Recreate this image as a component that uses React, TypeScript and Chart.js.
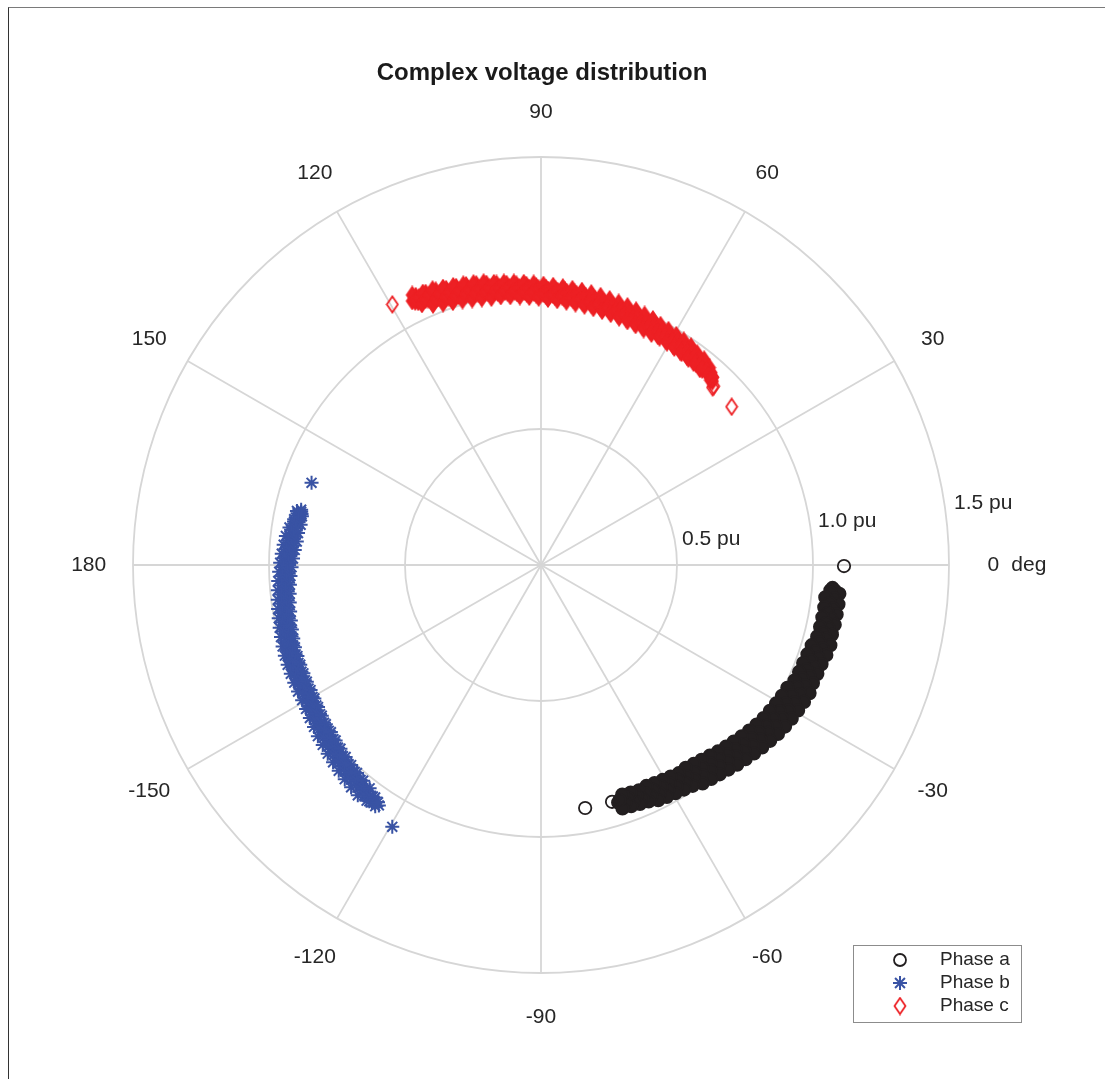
import React, { useEffect, useRef } from "react";
import { Chart, registerables } from "chart.js";

Chart.register(...registerables);

const TITLE = "Complex voltage distribution";
const angleTicks = [0, 30, 60, 90, 120, 150, 180, -150, -120, -90, -60, -30];
const angleTickLabels = ["0", "30", "60", "90", "120", "150", "180", "-150", "-120", "-90", "-60", "-30"];
const radialTicks = [0.5, 1.0, 1.5];
const radialTickLabels = ["0.5 pu", "1.0 pu", "1.5 pu"];
const seriesNames = ["Phase a", "Phase b", "Phase c"];
const seriesColors = ["#231f20", "#3953a4", "#ed2024"];

// [angle in degrees, magnitude in pu] — isolated samples
const phaseAOutliers: [number, number][] = [[-0.2, 1.114], [-73.3, 0.909], [-79.7, 0.908]];
const phaseBOutliers: [number, number][] = [[160.3, 0.896], [-119.6, 1.107]];
const phaseCOutliers: [number, number][] = [[119.7, 1.103], [46, 0.914], [46, 0.908], [39.7, 0.911]];

// [angle in degrees, magnitude in pu] — dense clusters
const phaseA: [number, number][] = [
  [-4.5, 1.075], [-5, 1.085], [-5, 1.068], [-6, 1.078], [-7, 1.09], [-7, 1.066], [-8, 1.08],
  [-9, 1.092], [-9, 1.062], [-10, 1.076], [-11, 1.094], [-11, 1.06], [-12, 1.078], [-13, 1.096], [-13, 1.056],
  [-14, 1.074], [-15, 1.094], [-15, 1.052], [-16, 1.072], [-17, 1.09], [-17, 1.048], [-18, 1.066], [-19, 1.088],
  [-19, 1.04], [-20, 1.062], [-21, 1.085], [-21, 1.036], [-22, 1.06], [-23, 1.083], [-23, 1.034], [-24, 1.058],
  [-25, 1.082], [-25, 1.03], [-26, 1.055], [-27, 1.078], [-27, 1.026], [-28, 1.05], [-29, 1.076], [-29, 1.02],
  [-30, 1.046], [-31, 1.07], [-31, 1.016], [-32, 1.04], [-33, 1.066], [-33, 1.01], [-34, 1.034], [-35, 1.06],
  [-35, 1.004], [-36, 1.028], [-37, 1.052], [-37, 0.998], [-38, 1.02], [-39, 1.044], [-39, 0.99], [-40, 1.012],
  [-41, 1.036], [-41, 0.982], [-42, 1.002], [-43, 1.026], [-43, 0.974], [-44, 0.994], [-45, 1.016], [-45, 0.966],
  [-46, 0.986], [-47, 1.006], [-47, 0.96], [-48, 0.978], [-49, 0.998], [-49, 0.952], [-50, 0.97], [-51, 0.99],
  [-51, 0.946], [-52, 0.962], [-53, 0.982], [-53, 0.94], [-54, 0.956], [-55, 0.974], [-55, 0.936], [-56, 0.95],
  [-57, 0.966], [-57, 0.932], [-58, 0.944], [-59, 0.96], [-59, 0.928], [-60, 0.94], [-61, 0.954], [-61, 0.924],
  [-62, 0.936], [-63, 0.95], [-63, 0.92], [-64, 0.932], [-65, 0.944], [-65, 0.916], [-66, 0.928], [-67, 0.94],
  [-67, 0.914], [-68, 0.924], [-69, 0.936], [-69, 0.912], [-70, 0.92], [-71, 0.93], [-71, 0.91], [-72, 0.918],
  [-5.5, 1.102], [-5.5, 1.07], [-6.5, 1.085], [-6.5, 1.052], [-7.5, 1.103], [-7.5, 1.071], [-8.5, 1.086], [-8.5, 1.053],
  [-9.5, 1.102], [-9.5, 1.07], [-10.5, 1.085], [-10.5, 1.052], [-11.5, 1.102], [-11.5, 1.07], [-12.5, 1.084], [-12.5, 1.051],
  [-13.5, 1.1], [-13.5, 1.068], [-14.5, 1.082], [-14.5, 1.049], [-15.5, 1.104], [-15.5, 1.062], [-16.5, 1.08], [-16.5, 1.038],
  [-17.5, 1.1], [-17.5, 1.058], [-18.5, 1.075], [-18.5, 1.033], [-19.5, 1.094], [-19.5, 1.052], [-20.5, 1.071], [-20.5, 1.029],
  [-21.5, 1.092], [-21.5, 1.05], [-22.5, 1.069], [-22.5, 1.027], [-23.5, 1.09], [-23.5, 1.048], [-24.5, 1.066], [-24.5, 1.024],
  [-25.5, 1.094], [-25.5, 1.042], [-26.5, 1.064], [-26.5, 1.012], [-27.5, 1.09], [-27.5, 1.038], [-28.5, 1.06], [-28.5, 1.008],
  [-29.5, 1.086], [-29.5, 1.034], [-30.5, 1.055], [-30.5, 1.003], [-31.5, 1.081], [-31.5, 1.029], [-32.5, 1.05], [-32.5, 0.998],
  [-33.5, 1.076], [-33.5, 1.024], [-34.5, 1.045], [-34.5, 0.993], [-35.5, 1.07], [-35.5, 1.018], [-36.5, 1.038], [-36.5, 0.986],
  [-37.5, 1.062], [-37.5, 1.01], [-38.5, 1.03], [-38.5, 0.978], [-39.5, 1.054], [-39.5, 1.002], [-40.5, 1.022], [-40.5, 0.97],
  [-41.5, 1.046], [-41.5, 0.994], [-42.5, 1.013], [-42.5, 0.961], [-43.5, 1.037], [-43.5, 0.985], [-44.5, 1.005], [-44.5, 0.953],
  [-45.5, 1.029], [-45.5, 0.977], [-46.5, 0.997], [-46.5, 0.945], [-47.5, 1.02], [-47.5, 0.968], [-48.5, 0.988], [-48.5, 0.936],
  [-49.5, 1.012], [-49.5, 0.96], [-50.5, 0.98], [-50.5, 0.928], [-51.5, 1.005], [-51.5, 0.953], [-52.5, 0.974], [-52.5, 0.922],
  [-53.5, 0.999], [-53.5, 0.947], [-54.5, 0.968], [-54.5, 0.916], [-55.5, 0.985], [-55.5, 0.943], [-56.5, 0.96], [-56.5, 0.918],
  [-57.5, 0.979], [-57.5, 0.937], [-58.5, 0.954], [-58.5, 0.912], [-59.5, 0.974], [-59.5, 0.932], [-60.5, 0.95], [-60.5, 0.908],
  [-61.5, 0.97], [-61.5, 0.928], [-62.5, 0.946], [-62.5, 0.904], [-63.5, 0.966], [-63.5, 0.924], [-64.5, 0.942], [-64.5, 0.9],
  [-65.5, 0.955], [-65.5, 0.922], [-66.5, 0.936], [-66.5, 0.903], [-67.5, 0.951], [-67.5, 0.918], [-68.5, 0.932], [-68.5, 0.899],
  [-69.5, 0.947], [-69.5, 0.914], [-70.5, 0.928], [-70.5, 0.895], [-71.5, 0.944], [-71.5, 0.911],
];

const phaseB: [number, number][] = [
  [167, 0.905], [168, 0.915], [168, 0.9], [169, 0.91], [170, 0.922], [170, 0.905], [171, 0.918],
  [172, 0.928], [172, 0.91], [173, 0.92], [174, 0.932], [174, 0.914], [175, 0.925], [176, 0.936], [176, 0.918],
  [177, 0.928], [178, 0.94], [178, 0.922], [179, 0.932], [180, 0.944], [180, 0.926], [-179, 0.936], [-178, 0.948],
  [-178, 0.928], [-177, 0.94], [-176, 0.952], [-176, 0.932], [-175, 0.944], [-174, 0.956], [-174, 0.936], [-173, 0.948],
  [-172, 0.96], [-172, 0.94], [-171, 0.952], [-170, 0.964], [-170, 0.944], [-169, 0.956], [-168, 0.968], [-168, 0.948],
  [-167, 0.96], [-166, 0.972], [-166, 0.95], [-165, 0.962], [-164, 0.974], [-164, 0.954], [-163, 0.966], [-162, 0.978],
  [-162, 0.958], [-161, 0.97], [-160, 0.982], [-160, 0.96], [-159, 0.972], [-158, 0.984], [-158, 0.962], [-157, 0.974],
  [-156, 0.986], [-156, 0.964], [-155, 0.976], [-154, 0.988], [-154, 0.966], [-153, 0.978], [-152, 0.99], [-152, 0.968],
  [-151, 0.98], [-150, 0.994], [-150, 0.97], [-149, 0.984], [-148, 0.998], [-148, 0.974], [-147, 0.99], [-146, 1.004],
  [-146, 0.98], [-145, 0.994], [-144, 1.01], [-144, 0.986], [-143, 1.0], [-142, 1.016], [-142, 0.99], [-141, 1.006],
  [-140, 1.022], [-140, 0.996], [-139, 1.012], [-138, 1.03], [-138, 1.004], [-137, 1.018], [-136, 1.036], [-136, 1.012],
  [-135, 1.024], [-134, 1.044], [-134, 1.018], [-133, 1.032], [-132, 1.05], [-132, 1.024], [-131, 1.04], [-130, 1.056],
  [-130, 1.032], [-129, 1.046], [-128, 1.066], [-128, 1.044], [-127, 1.056], [-126, 1.074], [-126, 1.052], [-125, 1.064],
  [-124, 1.066],
  [167.5, 0.919], [167.5, 0.903], [168.5, 0.913], [168.5, 0.897], [169.5, 0.923], [169.5, 0.907], [170.5, 0.92], [170.5, 0.896],
  [171.5, 0.935], [171.5, 0.911], [172.5, 0.925], [172.5, 0.901], [173.5, 0.944], [173.5, 0.914], [174.5, 0.932], [174.5, 0.902],
  [175.5, 0.949], [175.5, 0.919], [176.5, 0.937], [176.5, 0.907], [177.5, 0.954], [177.5, 0.924], [178.5, 0.942], [178.5, 0.912],
  [179.5, 0.959], [179.5, 0.929], [-179.5, 0.947], [-179.5, 0.917], [-178.5, 0.963], [-178.5, 0.933], [-177.5, 0.952], [-177.5, 0.922],
  [-176.5, 0.968], [-176.5, 0.938], [-175.5, 0.956], [-175.5, 0.926], [-174.5, 0.972], [-174.5, 0.942], [-173.5, 0.96], [-173.5, 0.93],
  [-172.5, 0.976], [-172.5, 0.946], [-171.5, 0.964], [-171.5, 0.934], [-170.5, 0.98], [-170.5, 0.95], [-169.5, 0.968], [-169.5, 0.938],
  [-168.5, 0.984], [-168.5, 0.954], [-167.5, 0.972], [-167.5, 0.942], [-166.5, 0.988], [-166.5, 0.958], [-165.5, 0.976], [-165.5, 0.946],
  [-164.5, 0.992], [-164.5, 0.962], [-163.5, 0.98], [-163.5, 0.95], [-162.5, 0.996], [-162.5, 0.966], [-161.5, 0.984], [-161.5, 0.954],
  [-160.5, 0.999], [-160.5, 0.969], [-159.5, 0.986], [-159.5, 0.956], [-158.5, 1.001], [-158.5, 0.971], [-157.5, 0.988], [-157.5, 0.958],
  [-156.5, 1.003], [-156.5, 0.973], [-155.5, 0.99], [-155.5, 0.96], [-154.5, 1.005], [-154.5, 0.975], [-153.5, 0.992], [-153.5, 0.962],
  [-152.5, 1.007], [-152.5, 0.977], [-151.5, 0.994], [-151.5, 0.964], [-150.5, 1.009], [-150.5, 0.979], [-149.5, 0.997], [-149.5, 0.967],
  [-148.5, 1.013], [-148.5, 0.983], [-147.5, 1.002], [-147.5, 0.972], [-146.5, 1.019], [-146.5, 0.989], [-145.5, 1.008], [-145.5, 0.978],
  [-144.5, 1.025], [-144.5, 0.995], [-143.5, 1.014], [-143.5, 0.984], [-142.5, 1.034], [-142.5, 1.001], [-141.5, 1.02], [-141.5, 0.987],
  [-140.5, 1.04], [-140.5, 1.007], [-139.5, 1.026], [-139.5, 0.993], [-138.5, 1.047], [-138.5, 1.014], [-137.5, 1.033], [-137.5, 1.0],
  [-136.5, 1.054], [-136.5, 1.021], [-135.5, 1.04], [-135.5, 1.007], [-134.5, 1.061], [-134.5, 1.028], [-133.5, 1.047], [-133.5, 1.014],
  [-132.5, 1.068], [-132.5, 1.035], [-131.5, 1.054], [-131.5, 1.021], [-130.5, 1.075], [-130.5, 1.042], [-129.5, 1.061], [-129.5, 1.028],
  [-128.5, 1.082], [-128.5, 1.049], [-127.5, 1.068], [-127.5, 1.035], [-126.5, 1.078], [-126.5, 1.058], [-125.5, 1.07], [-125.5, 1.05],
  [-124.5, 1.076], [-124.5, 1.058],
];

const phaseC: [number, number][] = [
  [116, 1.08], [115, 1.09], [115, 1.068], [114, 1.078], [113, 1.086], [113, 1.062], [112, 1.072],
  [111, 1.08], [111, 1.052], [110, 1.062], [109, 1.072], [109, 1.042], [108, 1.056], [107, 1.068], [107, 1.036],
  [106, 1.052], [105, 1.064], [105, 1.032], [104, 1.046], [103, 1.058], [103, 1.026], [102, 1.04], [101, 1.052],
  [101, 1.022], [100, 1.032], [99, 1.046], [99, 1.014], [98, 1.028], [97, 1.04], [97, 1.01], [96, 1.022],
  [95, 1.034], [95, 1.004], [94, 1.018], [93, 1.03], [93, 1.0], [92, 1.012], [91, 1.024], [91, 0.996],
  [90, 1.008], [89, 1.018], [89, 0.992], [88, 1.004], [87, 1.014], [87, 0.988], [86, 1.0], [85, 1.012],
  [85, 0.986], [84, 0.998], [83, 1.008], [83, 0.982], [82, 0.994], [81, 1.004], [81, 0.978], [80, 0.99],
  [79, 1.0], [79, 0.975], [78, 0.988], [77, 0.998], [77, 0.972], [76, 0.985], [75, 0.995], [75, 0.968],
  [74, 0.982], [73, 0.992], [73, 0.964], [72, 0.978], [71, 0.988], [71, 0.96], [70, 0.974], [69, 0.984],
  [69, 0.956], [68, 0.97], [67, 0.98], [67, 0.954], [66, 0.966], [65, 0.976], [65, 0.95], [64, 0.962],
  [63, 0.972], [63, 0.946], [62, 0.958], [61, 0.968], [61, 0.944], [60, 0.956], [59, 0.964], [59, 0.942],
  [58, 0.952], [57, 0.96], [57, 0.938], [56, 0.948], [55, 0.956], [55, 0.936], [54, 0.946], [53, 0.952],
  [53, 0.932], [52, 0.942], [51, 0.948], [51, 0.928], [50, 0.938], [49, 0.94], [48, 0.934], [47, 0.924],
  [115.5, 1.1], [115.5, 1.074], [114.5, 1.081], [114.5, 1.055], [113.5, 1.09], [113.5, 1.064], [112.5, 1.073], [112.5, 1.037],
  [111.5, 1.088], [111.5, 1.052], [110.5, 1.064], [110.5, 1.028], [109.5, 1.08], [109.5, 1.044], [108.5, 1.057], [108.5, 1.021],
  [107.5, 1.074], [107.5, 1.038], [106.5, 1.052], [106.5, 1.016], [105.5, 1.069], [105.5, 1.033], [104.5, 1.046], [104.5, 1.01],
  [103.5, 1.064], [103.5, 1.028], [102.5, 1.041], [102.5, 1.005], [101.5, 1.059], [101.5, 1.023], [100.5, 1.036], [100.5, 1.0],
  [99.5, 1.05], [99.5, 1.019], [98.5, 1.031], [98.5, 1.0], [97.5, 1.046], [97.5, 1.015], [96.5, 1.027], [96.5, 0.996],
  [95.5, 1.042], [95.5, 1.011], [94.5, 1.023], [94.5, 0.992], [93.5, 1.038], [93.5, 1.007], [92.5, 1.019], [92.5, 0.988],
  [91.5, 1.034], [91.5, 1.003], [90.5, 1.015], [90.5, 0.984], [89.5, 1.029], [89.5, 0.998], [88.5, 1.011], [88.5, 0.98],
  [87.5, 1.026], [87.5, 0.995], [86.5, 1.008], [86.5, 0.977], [85.5, 1.023], [85.5, 0.992], [84.5, 1.005], [84.5, 0.974],
  [83.5, 1.02], [83.5, 0.989], [82.5, 1.002], [82.5, 0.971], [81.5, 1.018], [81.5, 0.987], [80.5, 0.999], [80.5, 0.968],
  [79.5, 1.015], [79.5, 0.984], [78.5, 0.996], [78.5, 0.965], [77.5, 1.012], [77.5, 0.981], [76.5, 0.993], [76.5, 0.962],
  [75.5, 1.008], [75.5, 0.977], [74.5, 0.99], [74.5, 0.959], [73.5, 1.005], [73.5, 0.974], [72.5, 0.986], [72.5, 0.955],
  [71.5, 1.002], [71.5, 0.971], [70.5, 0.983], [70.5, 0.952], [69.5, 0.998], [69.5, 0.967], [68.5, 0.98], [68.5, 0.949],
  [67.5, 0.995], [67.5, 0.964], [66.5, 0.977], [66.5, 0.946], [65.5, 0.992], [65.5, 0.961], [64.5, 0.974], [64.5, 0.943],
  [63.5, 0.985], [63.5, 0.959], [62.5, 0.97], [62.5, 0.944], [61.5, 0.982], [61.5, 0.956], [60.5, 0.967], [60.5, 0.941],
  [59.5, 0.98], [59.5, 0.954], [58.5, 0.964], [58.5, 0.938], [57.5, 0.977], [57.5, 0.951], [56.5, 0.962], [56.5, 0.936],
  [55.5, 0.974], [55.5, 0.948], [54.5, 0.959], [54.5, 0.933], [53.5, 0.966], [53.5, 0.947], [52.5, 0.955], [52.5, 0.935],
  [51.5, 0.964], [51.5, 0.944], [50.5, 0.952], [50.5, 0.932], [49.5, 0.954], [49.5, 0.938], [48.5, 0.944], [48.5, 0.93],
  [47.5, 0.936], [47.5, 0.922],
];

const FONT = "'Liberation Sans', Arial, Helvetica, sans-serif";
const RMAX = 1.5;

function toXY(pts: [number, number][]) {
  return pts.map(([a, r]) => ({
    x: r * Math.cos((a * Math.PI) / 180),
    y: r * Math.sin((a * Math.PI) / 180),
  }));
}

function makeDiamond(color: string, filled: boolean) {
  const c = document.createElement("canvas");
  c.width = 14;
  c.height = 19;
  const g = c.getContext("2d")!;
  g.strokeStyle = color;
  g.fillStyle = color;
  g.lineWidth = 1.8;
  g.lineJoin = "miter";
  g.beginPath();
  g.moveTo(7, 1.5);
  g.lineTo(12.5, 9.5);
  g.lineTo(7, 17.5);
  g.lineTo(1.5, 9.5);
  g.closePath();
  if (filled) g.fill();
  g.stroke();
  return c;
}

export default function App() {
  const ref = useRef<HTMLCanvasElement | null>(null);

  useEffect(() => {
    const canvas = ref.current;
    if (!canvas) return;
    const diamond = makeDiamond(seriesColors[2], false);
    const diamondFilled = makeDiamond(seriesColors[2], true);

    const gridPlugin = {
      id: "polarGrid",
      beforeDatasetsDraw(chart: any) {
        const ctx = chart.ctx;
        const xs = chart.scales.x;
        const ys = chart.scales.y;
        const cx = xs.getPixelForValue(0);
        const cy = ys.getPixelForValue(0);
        ctx.save();
        ctx.strokeStyle = "#d6d6d6";
        ctx.lineWidth = 1.8;
        radialTicks.forEach((r) => {
          const rp = xs.getPixelForValue(r) - cx;
          ctx.beginPath();
          ctx.arc(cx, cy, rp, 0, Math.PI * 2);
          ctx.stroke();
        });
        angleTicks.forEach((a) => {
          const t = (a * Math.PI) / 180;
          ctx.beginPath();
          ctx.moveTo(cx, cy);
          ctx.lineTo(xs.getPixelForValue(RMAX * Math.cos(t)), ys.getPixelForValue(RMAX * Math.sin(t)));
          ctx.stroke();
        });
        ctx.restore();
      },
      afterDraw(chart: any) {
        const ctx = chart.ctx;
        const xs = chart.scales.x;
        const ys = chart.scales.y;
        const cx = xs.getPixelForValue(0);
        const cy = ys.getPixelForValue(0);
        ctx.save();
        // title
        ctx.fillStyle = "#1a1a1a";
        ctx.font = `bold 24px ${FONT}`;
        ctx.textAlign = "center";
        ctx.textBaseline = "alphabetic";
        ctx.fillText(TITLE, cx + 1, 72);
        // angle labels
        ctx.fillStyle = "#262626";
        ctx.font = `21px ${FONT}`;
        ctx.textBaseline = "middle";
        const lr = 1.663;
        angleTicks.forEach((a, i) => {
          const t = (a * Math.PI) / 180;
          const px = xs.getPixelForValue(lr * Math.cos(t));
          const py = ys.getPixelForValue(lr * Math.sin(t));
          ctx.textAlign = "center";
          ctx.fillText(angleTickLabels[i], px, py);
          if (a === 0) {
            ctx.textAlign = "left";
            ctx.fillText("deg", px + 18, py);
          }
        });
        // radial labels
        ctx.textAlign = "left";
        ctx.textBaseline = "alphabetic";
        radialTicks.forEach((r, i) => {
          const rp = xs.getPixelForValue(r) - cx;
          ctx.fillText(radialTickLabels[i], cx + rp + 5, cy - (rp * 0.13 + 2.5));
        });
        // legend
        const bx = 844, by = 937, bw = 168, bh = 77;
        ctx.fillStyle = "#ffffff";
        ctx.fillRect(bx, by, bw, bh);
        ctx.strokeStyle = "#8c8c8c";
        ctx.lineWidth = 1;
        ctx.strokeRect(bx + 0.5, by + 0.5, bw, bh);
        const rows = [952, 975, 998];
        ctx.font = `19px ${FONT}`;
        ctx.textBaseline = "middle";
        rows.forEach((yy, i) => {
          const mx = 891;
          ctx.strokeStyle = seriesColors[i];
          if (i === 0) {
            ctx.lineWidth = 1.8;
            ctx.beginPath();
            ctx.arc(mx, yy, 6, 0, Math.PI * 2);
            ctx.stroke();
          } else if (i === 1) {
            ctx.lineWidth = 2;
            const s = 7;
            ctx.beginPath();
            for (let k = 0; k < 4; k++) {
              const t = (k * Math.PI) / 4;
              ctx.moveTo(mx - s * Math.cos(t), yy - s * Math.sin(t));
              ctx.lineTo(mx + s * Math.cos(t), yy + s * Math.sin(t));
            }
            ctx.stroke();
          } else {
            ctx.drawImage(diamond, mx - diamond.width / 2, yy - diamond.height / 2);
          }
          ctx.fillStyle = "#262626";
          ctx.textAlign = "left";
          ctx.fillText(seriesNames[i], 931, yy);
        });
        ctx.restore();
      },
    };

    const aData = [...toXY(phaseA), ...toXY(phaseAOutliers)];
    const bData = [...toXY(phaseB), ...toXY(phaseBOutliers)];
    const cData = [...toXY(phaseC), ...toXY(phaseCOutliers)];
    const aFill = aData.map((_, i) => (i < phaseA.length ? seriesColors[0] : "rgba(0,0,0,0)"));
    const cStyle = cData.map((_, i) => (i < phaseC.length ? diamondFilled : diamond));

    const chart = new Chart(canvas, {
      type: "scatter",
      data: {
        datasets: [
          {
            label: seriesNames[0],
            data: aData,
            pointStyle: "circle",
            pointRadius: 6.2,
            borderWidth: 1.8,
            borderColor: seriesColors[0],
            backgroundColor: aFill,
          },
          {
            label: seriesNames[1],
            data: bData,
            pointStyle: "star",
            pointRadius: 7,
            borderWidth: 2,
            borderColor: seriesColors[1],
            backgroundColor: seriesColors[1],
          },
          {
            label: seriesNames[2],
            data: cData,
            pointStyle: cStyle as any,
            pointRadius: 8,
            borderColor: seriesColors[2],
            backgroundColor: "rgba(0,0,0,0)",
          },
        ],
      },
      options: {
        responsive: false,
        animation: false,
        events: [],
        layout: { padding: { left: 124, right: 148, top: 149, bottom: 94 } },
        plugins: {
          legend: { display: false },
          title: { display: false },
          tooltip: { enabled: false },
        },
        scales: {
          x: { type: "linear", min: -RMAX, max: RMAX, display: false },
          y: { type: "linear", min: -RMAX, max: RMAX, display: false },
        },
      },
      plugins: [gridPlugin],
    });
    return () => chart.destroy();
  }, []);

  return (
    <div
      style={{
        position: "absolute",
        left: 8,
        top: 7,
        width: 1097,
        height: 1072,
        boxSizing: "border-box",
        borderTop: "1px solid #7a7a7a",
        borderLeft: "1px solid #333333",
        background: "#ffffff",
      }}
    >
      <canvas ref={ref} width={1088} height={1059} style={{ display: "block", width: 1088, height: 1059 }} />
    </div>
  );
}
